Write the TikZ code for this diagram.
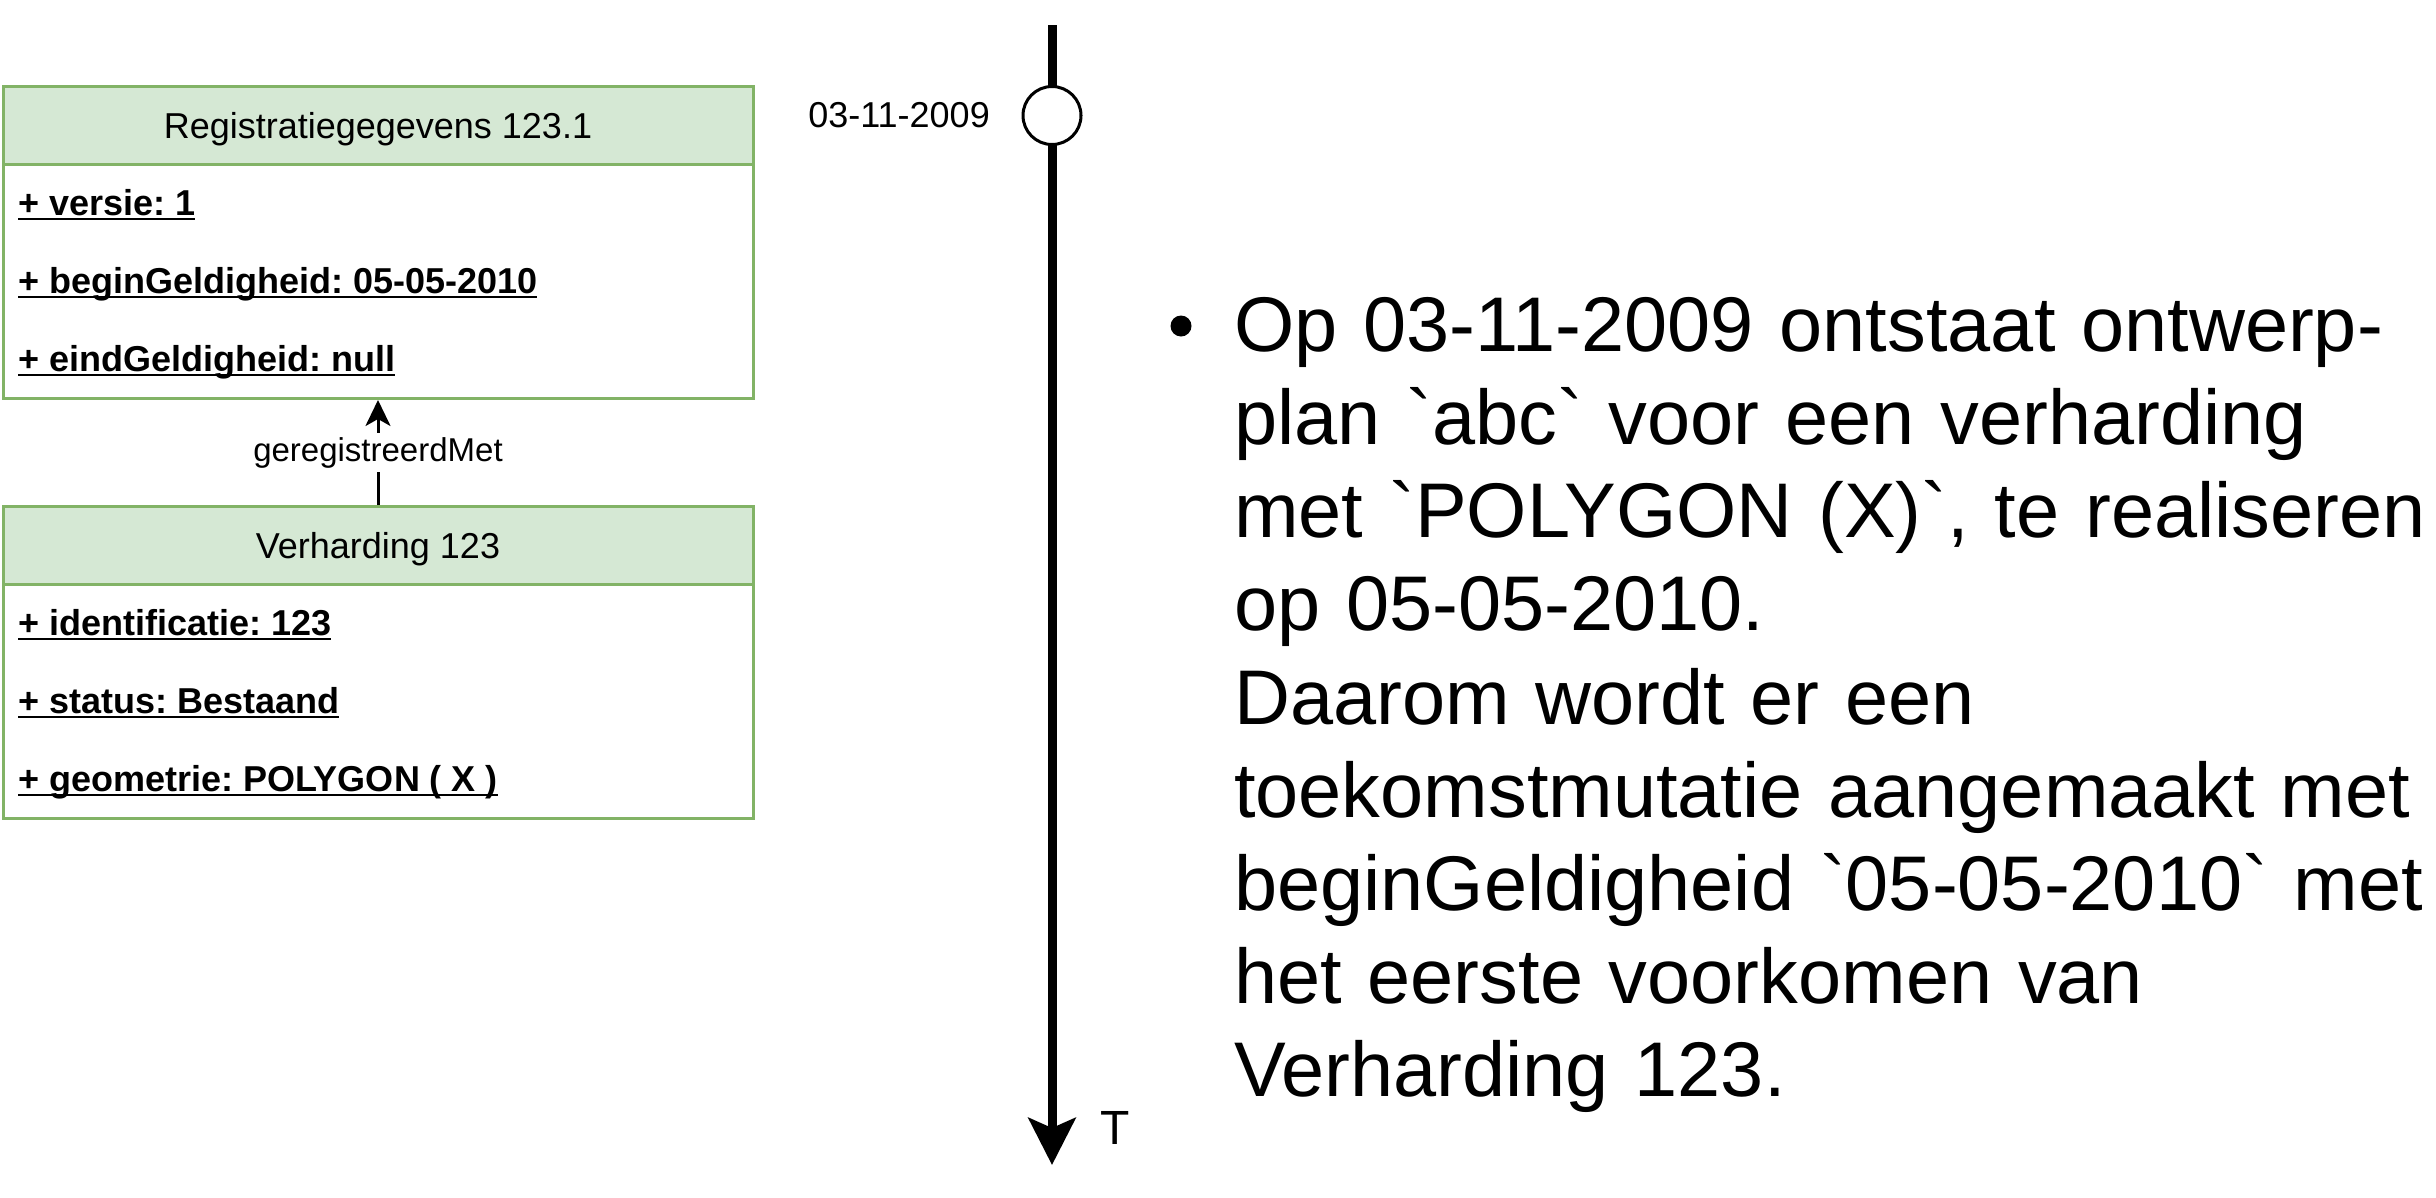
\documentclass[tikz,border=0pt]{standalone}
\usepackage{fontspec}
\setmainfont{Liberation Sans}
\usetikzlibrary{arrows.meta}
\definecolor{hdrfill}{HTML}{D5E8D4}
\definecolor{hdrdraw}{HTML}{82B366}
\newcommand\ulattr[1]{\setbox0=\hbox{#1}\rlap{\rule[-5pt]{\wd0}{2.2pt}}\box0}
\frenchspacing
\begin{document}
\begin{tikzpicture}[x=1pt,y=-1pt,
  hdr/.style={draw=hdrdraw, fill=hdrfill, line width=3pt, minimum width=750pt,
    minimum height=78pt, inner sep=0pt, anchor=north west,
    text height=26pt, text depth=0pt, font=\fontsize{36}{43}\selectfont},
  bodybox/.style={draw=hdrdraw, line width=3pt, minimum width=750pt,
    minimum height=234pt, inner sep=0pt, anchor=north west},
  attr/.style={anchor=base west, inner sep=0pt, font=\fontsize{36}{43}\selectfont\bfseries},
  small/.style={font=\fontsize{36}{43}\selectfont, inner sep=0pt},
]
\useasboundingbox (0,0) rectangle (2436,1197);

% Registratiegegevens box
\node[hdr] (regh) at (1.5,85) {Registratiegegevens 123.1};
\node[bodybox] (reg) at (1.5,163) {};
\node[attr] (a1) at (18,215) {\ulattr{+ versie: 1}};
\node[attr] (a2) at (18,293) {\ulattr{+ beginGeldigheid: 05-05-2010}};
\node[attr] (a3) at (18,371) {\ulattr{+ eindGeldigheid: null}};

% Verharding box
\node[hdr] (verh) at (1.5,505) {Verharding 123};
\node[bodybox] (verb) at (1.5,583) {};
\node[attr] (b1) at (18,635) {\ulattr{+ identificatie: 123}};
\node[attr] (b2) at (18,713) {\ulattr{+ status: Bestaand}};
\node[attr] (b3) at (18,791) {\ulattr{+ geometrie: POLYGON ( X )}};

% association
\draw[line width=3pt, -{Stealth[length=26pt,width=25pt,inset=7pt]}]
  (verh.north) -- node[pos=0.5, fill=white, inner sep=4pt,
    font=\fontsize{33}{40}\selectfont] (lbl) {geregistreerdMet} (reg.south);

% timeline
\coordinate (ttop) at (1052,25);
\coordinate (tend) at (1052,1165);
\draw[line width=9pt, -{Stealth[length=47pt,width=47pt,inset=10pt]}] (ttop) -- (tend);
\node[circle, draw, line width=3pt, fill=white, minimum size=58pt, inner sep=0pt] (ev) at (1052,115.5) {};
\node[small, anchor=east] (dlabel) at (990,115.5) {03-11-2009};
\node[inner sep=0pt, anchor=west, font=\fontsize{48}{58}\selectfont] (tlabel) at (1100,1128) {T};

% text
\fill (1181,326) circle (10.5pt);
\node[anchor=north west, inner sep=0pt, text width=1250pt, align=left,
  font=\fontsize{77.5}{93.2}\selectfont] (txt) at (1234,285.8) {%
\strut Op 03-11-2009 ontstaat ontwerp-\\
plan \textasciigrave abc\textasciigrave{} voor een verharding\\
met \textasciigrave POLYGON (X)\textasciigrave, te realiseren\\
op 05-05-2010.\\
Daarom wordt er een\\
toekomstmutatie aangemaakt met\\
beginGeldigheid \textasciigrave 05-05-2010\textasciigrave{} met\\
het eerste voorkomen van\\
Verharding 123.};
\end{tikzpicture}
\end{document}
